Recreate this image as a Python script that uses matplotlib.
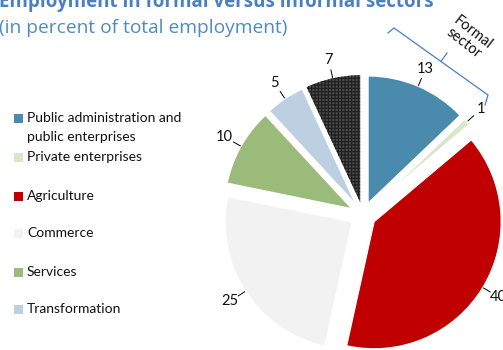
import numpy as np
import matplotlib.pyplot as plt
from matplotlib.patches import Rectangle

# employment shares (percent of total employment), clockwise from 12 o'clock
sectors = ['Public administration and\npublic enterprises', 'Private enterprises',
           'Agriculture', 'Commerce', 'Services', 'Transformation', 'Other']
shares = [13, 1, 40, 25, 10, 5, 7]
colors = ['#4A8BAD', '#D8E6CC', '#C00000', '#F2F2F2', '#9BBB7B', '#BCD0E2', '#4A4A4A']
legend_y = [118, 157, 196, 233, 272, 309]   # legend rows (px from top)

W, H = 503, 350
fig = plt.figure(figsize=(W / 100, H / 100), dpi=100)
ax = fig.add_axes([0, 0, 1, 1])

plt.rcParams['font.family'] = 'Lato'
plt.rcParams['hatch.linewidth'] = 0.8

# axes in pixel units so the pie radius / offsets are in px
cx, cy, R = 363, 135, 127
gap = 13
wedges, _ = ax.pie(shares, colors=colors, startangle=90, counterclock=False,
                   explode=[gap] * len(shares), radius=R, center=(cx, cy),
                   wedgeprops=dict(linewidth=0.8, edgecolor='white'), frame=True)
ax.set_xlim(0, W)
ax.set_ylim(0, H)
ax.axis('off')

# thin sliver for private enterprises
wedges[1].set_linewidth(1.6)

# dark wedge gets a fine grid pattern
wedges[-1].set_hatch('+++++')
wedges[-1].set_edgecolor('#1E1E1E')
wedges[-1].set_linewidth(0)

# value labels with short leader lines
total = sum(shares)
ends = np.cumsum(shares) / total * 360
mids = ends - np.array(shares) / total * 180
for val, th in zip(shares, np.radians(mids)):
    d = np.array([np.sin(th), np.cos(th)])
    p0 = np.array([cx, cy]) + d * (R + gap + 1)
    p1 = np.array([cx, cy]) + d * (R * 1.17)
    ax.plot([p0[0], p1[0]], [p0[1], p1[1]], color='black', lw=0.7)
    tx, ty = np.array([cx, cy]) + d * R * 1.25
    ax.text(tx, ty, str(val), ha='center', va='center', fontsize=10.5, color='#111111')

# legend (the dark wedge has no entry)
for name, col, y in zip(sectors[:-1], colors[:-1], legend_y):
    ax.add_patch(Rectangle((14, H - y - 4.5), 9, 9, facecolor=col, edgecolor='none'))
    lines = name.split('\n')
    for i, line in enumerate(lines):
        ax.text(27, H - y - 19 * i, line, ha='left', va='center', fontsize=10,
                color='#111111')

# bracket marking the formal sector
bx = [388, 394, 488, 485]
by = [33, 28, 95, 105]
ax.plot(bx, [H - v for v in by], color='#4A7EC4', lw=0.9)
ax.plot([441, 447], [H - 61.5, H - 53], color='#4A7EC4', lw=0.9)
ax.text(468, H - 38, 'Formal\nsector', rotation=-38, ha='center', va='center',
        fontsize=10.5, color='#111111', linespacing=1.0, rotation_mode='anchor')

# title and subtitle
ax.text(-1, H - 7, 'Employment in formal versus informal sectors', ha='left',
        va='baseline', fontsize=13.5, fontweight='bold', color='#4A80C0',
        family='Open Sans')
ax.text(-1, H - 33, '(in percent of total employment)', ha='left', va='baseline',
        fontsize=13.8, color='#4F8AC6', family='Open Sans')

fig.savefig('out.png', dpi=100)
